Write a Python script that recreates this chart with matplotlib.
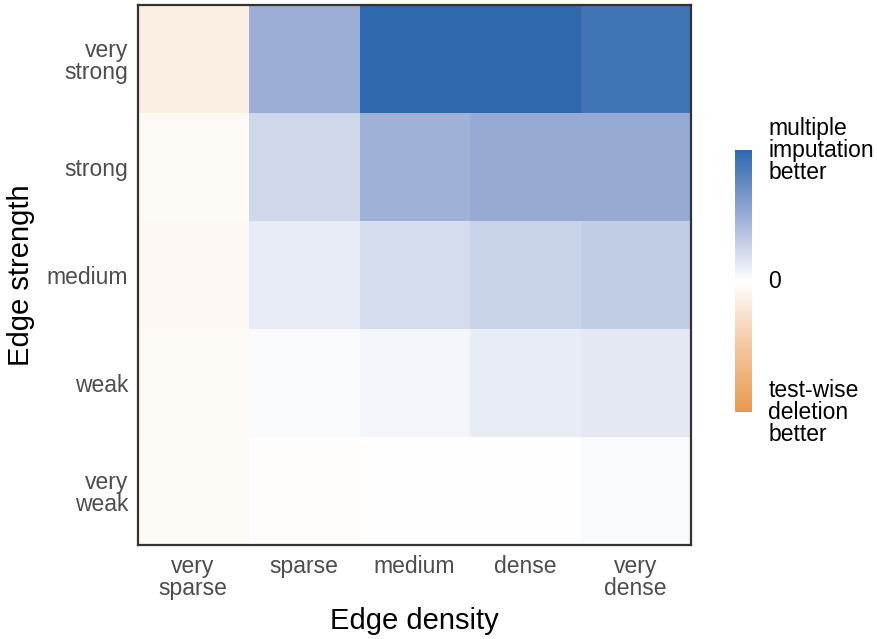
import numpy as np
import matplotlib
matplotlib.use('Agg')
import matplotlib.pyplot as plt
from matplotlib.colors import LinearSegmentedColormap

plt.rcParams['font.family'] = ['Liberation Sans', 'DejaVu Sans']

density = ['very\nsparse', 'sparse', 'medium', 'dense', 'very\ndense']
strength = ['very\nweak', 'weak', 'medium', 'strong', 'very\nstrong']

# rows: very weak -> very strong, columns: very sparse -> very dense
very_weak = [-0.04, -0.01, 0.0, 0.005, 0.03]
weak = [-0.05, 0.03, 0.06, 0.11, 0.14]
medium = [-0.06, 0.11, 0.21, 0.27, 0.31]
strong = [-0.05, 0.24, 0.47, 0.52, 0.52]
very_strong = [-0.14, 0.49, 1.0, 1.0, 0.91]

values = np.array([very_weak, weak, medium, strong, very_strong])

cmap = LinearSegmentedColormap.from_list(
    'mi_tw', [(0.0, '#E8994F'), (0.25, '#F3C7A0'), (0.5, '#FFFFFF'),
              (0.75, '#9BADD6'), (1.0, '#2E69AE')])

fig = plt.figure(figsize=(8.77, 6.39), dpi=100)
ax = fig.add_axes([0.157, 0.147, 0.631, 0.845])
im = ax.imshow(values, cmap=cmap, vmin=-1, vmax=1, origin='lower',
               aspect='auto', interpolation='nearest')

ax.set_xticks(range(len(density)))
ax.set_xticklabels(density, fontsize=16.5, color='#4d4d4d', linespacing=0.95)
ax.set_yticks(range(len(strength)))
ax.set_yticklabels(strength, fontsize=16.5, color='#4d4d4d', linespacing=0.95)
ax.tick_params(length=0, pad=7)
for s in ax.spines.values():
    s.set_color('#333333')
    s.set_linewidth(1.6)

ax.set_xlabel('Edge density', fontsize=21, labelpad=5)
ax.set_ylabel('Edge strength', fontsize=21, labelpad=8)

cax = fig.add_axes([0.838, 0.355, 0.019, 0.41])
cb = fig.colorbar(im, cax=cax)
cb.outline.set_visible(False)
cb.set_ticks([])
cax.text(2.0, 1.0, 'multiple\nimputation\nbetter', transform=cax.transAxes,
         fontsize=16.5, va='center', ha='left', linespacing=0.95)
cax.text(2.0, 0.5, '0', transform=cax.transAxes,
         fontsize=16.5, va='center', ha='left')
cax.text(2.0, 0.0, 'test-wise\ndeletion\nbetter', transform=cax.transAxes,
         fontsize=16.5, va='center', ha='left', linespacing=0.95)

fig.savefig('out.png', dpi=100)
